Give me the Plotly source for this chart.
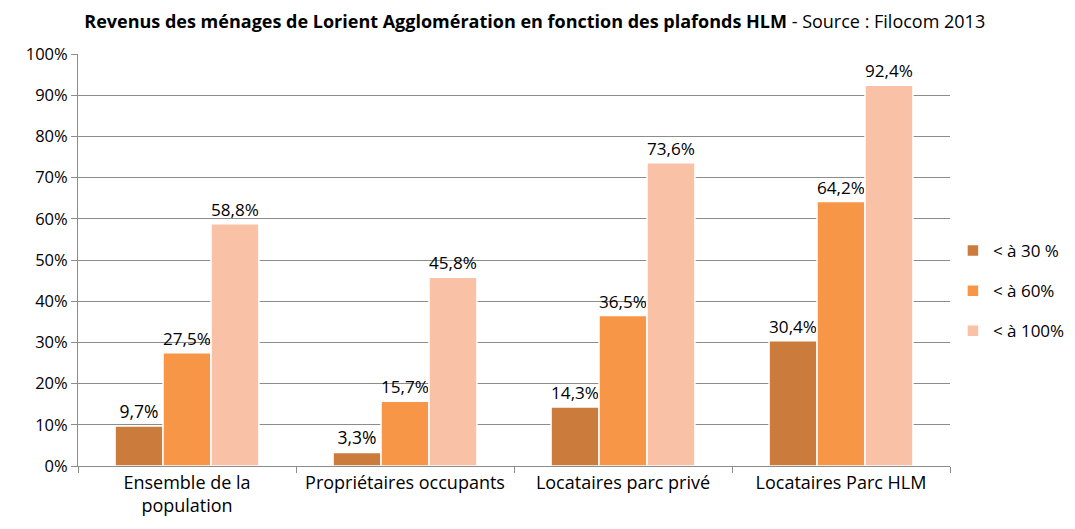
import plotly.graph_objects as go

categories = ["Ensemble de la<br>population", "Propriétaires occupants", "Locataires parc privé", "Locataires Parc HLM"]
series_names = ["< à 30 %", "< à 60%", "< à 100%"]
v30 = [9.7, 3.3, 14.3, 30.4]
v60 = [27.5, 15.7, 36.5, 64.2]
v100 = [58.8, 45.8, 73.6, 92.4]
colors = ["#CB7B3C", "#F79646", "#F9C2A7"]

FONT = "Open Sans"
fig = go.Figure()
for name, vals, col in zip(series_names, [v30, v60, v100], colors):
    fig.add_trace(go.Bar(
        x=categories, y=vals, name=name, legendgroup=name,
        marker=dict(color=col, line=dict(color="white", width=1.5)),
        text=[f"{v:.1f}%".replace(".", ",") for v in vals],
        textposition="outside", cliponaxis=False,
        textfont=dict(size=17.5, color="#000000", family=FONT),
    ))

fig.update_layout(
    width=1075, height=529,
    paper_bgcolor="white", plot_bgcolor="white",
    margin=dict(l=70, r=133, t=46, b=71, autoexpand=False),
    barmode="group", bargap=0.34, bargroupgap=0,
    font=dict(family=FONT, size=16, color="#000000"),
    title=dict(
        text="<b>Revenus des ménages de Lorient Agglomération en fonction des plafonds HLM</b> - Source : Filocom 2013",
        x=0.49, xanchor="center", y=0.9735, yanchor="middle",
        font=dict(size=18, family=FONT, color="#000000"),
    ),
    legend=dict(
        xref="container", yref="container",
        x=0.879, xanchor="left", y=0.465, yanchor="middle",
        font=dict(size=17, family=FONT), itemwidth=30, tracegroupgap=15,
        traceorder="grouped",
        bgcolor="rgba(0,0,0,0)",
    ),
    showlegend=True,
)
fig.update_yaxes(
    range=[0, 100], dtick=10, ticksuffix="%",
    showgrid=True, gridcolor="#8C8C8C", gridwidth=1,
    showline=True, linecolor="#8C8C8C", linewidth=1,
    ticks="outside", ticklen=6, tickcolor="#8C8C8C",
    tickfont=dict(size=16.5, family=FONT), zeroline=False,
)
fig.update_xaxes(
    showline=True, linecolor="#8C8C8C", linewidth=1,
    ticks="outside", ticklen=6, tickcolor="#8C8C8C", tickson="boundaries",
    tickfont=dict(size=18, family=FONT),
)
fig.write_html("out.html")
